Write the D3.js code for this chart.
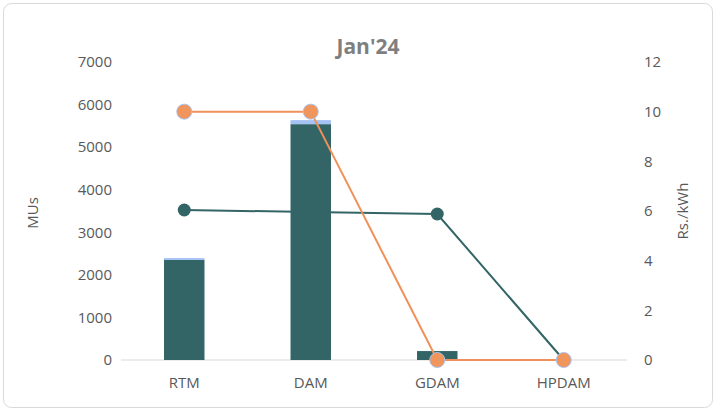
<!DOCTYPE html>
<html><head><meta charset="utf-8">
<script src="https://cdn.jsdelivr.net/npm/d3@7"></script>
<style>body{margin:0;background:#fff;} svg{display:block;font-family:"Open Sans","Liberation Sans",sans-serif;}</style>
</head><body>
<svg id="c" width="716" height="412"></svg>
<script>
const categories = ["RTM", "DAM", "GDAM", "HPDAM"];
const volumeMain = [2350, 5540, 210, 0];
const volumeTop = [45, 95, 0, 0];
const priceDark = [6.04, 5.96, 5.88, 0];
const priceOrange = [10, 10, 0, 0];
const leftTicks = [0, 1000, 2000, 3000, 4000, 5000, 6000, 7000];
const rightTicks = [0, 2, 4, 6, 8, 10, 12];

const svg = d3.select("#c");
const m = {l: 121, r: 627, t: 62, b: 360};
const dark = "#336567";

svg.append("rect").attr("x", 3.5).attr("y", 3.5).attr("width", 709).attr("height", 404)
  .attr("rx", 8).attr("fill", "#fff").attr("stroke", "#d9d9d9").attr("stroke-width", 1);

const x = d3.scaleBand().domain(categories).range([m.l, m.r]).paddingInner(0.68).paddingOuter(0.34);
const xc = d => x(d) + x.bandwidth() / 2;
const yL = d3.scaleLinear().domain([0, 7000]).range([m.b, m.t]);
const yR = d3.scaleLinear().domain([0, 12]).range([m.b, m.t]);

svg.append("text").attr("x", 368).attr("y", 54).attr("text-anchor", "middle")
  .attr("font-size", 21).attr("font-weight", "bold").attr("fill", "#7f7f7f").text("Jan'24");

const gl = svg.append("g").attr("transform", `translate(${m.l},0)`)
  .call(d3.axisLeft(yL).tickValues(leftTicks).tickFormat(d3.format("d")).tickSize(0).tickPadding(9));
gl.select(".domain").remove();
gl.selectAll("text").attr("font-size", 15).attr("fill", "#595959").attr("font-family", "Open Sans");

const gr = svg.append("g").attr("transform", `translate(${m.r},0)`)
  .call(d3.axisRight(yR).tickValues(rightTicks).tickSize(0).tickPadding(17));
gr.select(".domain").remove();
gr.selectAll("text").attr("font-size", 15).attr("fill", "#595959").attr("font-family", "Open Sans");

const gx = svg.append("g").attr("transform", `translate(0,${m.b})`)
  .call(d3.axisBottom(x).tickSize(0).tickPadding(17));
gx.select(".domain").remove();
gx.selectAll("text").attr("font-size", 15).attr("fill", "#595959").attr("font-family", "Open Sans");

svg.append("line").attr("x1", m.l).attr("x2", m.r).attr("y1", yL(0)).attr("y2", yL(0))
  .attr("stroke", "#d9d9d9").attr("stroke-width", 1);

svg.append("text").attr("transform", `translate(38,${(m.t + m.b) / 2 + 2}) rotate(-90)`)
  .attr("text-anchor", "middle").attr("font-size", 15).attr("fill", "#595959").text("MUs");
svg.append("text").attr("transform", `translate(688,${(m.t + m.b) / 2}) rotate(-90)`)
  .attr("text-anchor", "middle").attr("font-size", 15).attr("fill", "#595959").text("Rs./kWh");

const bars = svg.append("g");
categories.forEach((c, i) => {
  bars.append("rect").attr("x", x(c)).attr("width", x.bandwidth())
    .attr("y", yL(volumeMain[i])).attr("height", yL(0) - yL(volumeMain[i])).attr("fill", dark);
  bars.append("rect").attr("x", x(c)).attr("width", x.bandwidth())
    .attr("y", yL(volumeMain[i] + volumeTop[i])).attr("height", yL(volumeMain[i]) - yL(volumeMain[i] + volumeTop[i]))
    .attr("fill", "#a4c2f4");
});

const line = vals => d3.line().x((d, i) => xc(categories[i])).y(d => yR(d))(vals);

svg.append("path").attr("d", line(priceDark)).attr("fill", "none").attr("stroke", dark).attr("stroke-width", 2);
svg.selectAll(".dm").data(priceDark).join("circle").attr("class", "dm")
  .attr("cx", (d, i) => xc(categories[i])).attr("cy", d => yR(d)).attr("r", 6.5).attr("fill", dark);

svg.append("path").attr("d", line(priceOrange)).attr("fill", "none").attr("stroke", "#ef9158").attr("stroke-width", 2);
svg.selectAll(".om").data(priceOrange).join("circle").attr("class", "om")
  .attr("cx", (d, i) => xc(categories[i])).attr("cy", d => yR(d)).attr("r", 7.5)
  .attr("fill", "#f0955b").attr("stroke", "#a9c4f0").attr("stroke-width", 1);
</script>
</body></html>
